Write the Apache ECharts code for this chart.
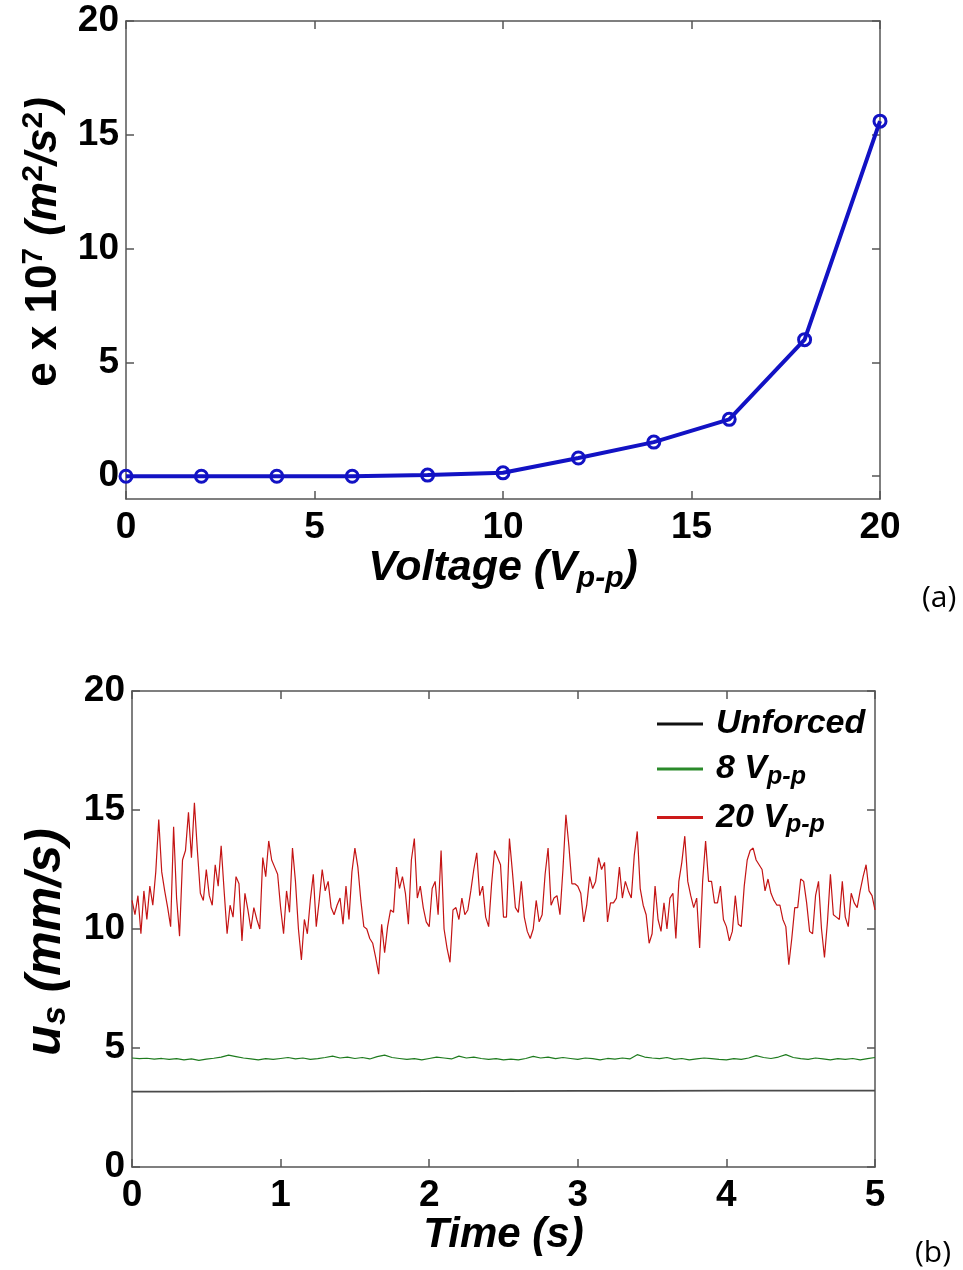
<!DOCTYPE html>
<html><head><meta charset="utf-8">
<script src="https://cdn.jsdelivr.net/npm/echarts@6/dist/echarts.min.js"></script>
<style>html,body{margin:0;padding:0;background:#fff}#c{width:963px;height:1270px}</style>
</head><body><div id="c"></div>
<script>
// ---------- panel (a) ----------
const voltage = [0, 2, 4, 6, 8, 10, 12, 14, 16, 18, 20];
const energy = [0, 0, 0, 0, 0.05, 0.15, 0.8, 1.5, 2.5, 6.0, 15.6];
const energyTicks = [0, 5, 10, 15, 20];

// ---------- panel (b) ----------
const dt20 = 0.02;
const forced20 = [
 11.2,10.6,11.4,9.8,11.6,10.4,11.8,11.0,12.4,14.6,
 12.4,11.6,10.9,10.1,14.3,11.3,9.7,12.9,13.3,14.9,
 13.0,15.3,13.3,11.5,11.2,12.5,11.4,11.0,12.7,11.8,
 13.5,11.6,9.8,11.0,10.5,12.2,11.9,9.5,11.5,10.8,
 10.0,10.9,
 10.4,10.0,13.0,12.2,13.7,12.9,12.6,12.3,10.9,9.8,
 11.6,10.7,13.4,12.0,10.0,8.7,10.4,9.8,11.2,12.3,
 10.1,11.2,12.5,11.6,12.0,10.9,10.6,11.0,11.3,10.2,
 11.8,10.4,12.4,13.4,12.6,11.2,10.1,10.0,9.6,9.4,
 8.8,8.1,
 10.2,9.0,10.1,10.8,10.7,12.6,11.7,12.2,11.5,10.2,
 12.9,13.8,11.3,11.8,10.9,10.3,10.1,11.7,12.0,10.6,
 13.3,10.0,9.2,8.6,10.8,10.9,10.4,11.3,10.6,10.8,
 11.6,12.5,13.2,11.4,11.8,10.5,10.1,11.9,13.3,13.0,
 12.7,10.5,
 10.5,13.8,12.4,10.9,10.7,12.0,10.5,9.9,9.6,10.0,
 11.2,10.3,10.6,12.3,13.4,11.0,11.3,11.4,10.6,12.5,
 14.8,13.5,11.9,11.9,11.8,11.5,10.3,11.0,12.2,11.7,
 12.0,13.0,12.5,12.8,10.3,11.1,11.1,11.3,12.6,11.3,
 12.0,11.6,
 11.3,13.1,14.1,11.7,11.0,10.6,9.4,9.8,11.8,10.4,
 9.9,11.1,10.0,11.3,11.5,9.6,12.0,12.8,13.9,12.0,
 11.4,10.9,11.3,9.2,12.0,13.7,12.0,12.0,11.1,11.1,
 11.8,10.4,10.1,9.5,9.9,11.4,10.2,10.1,11.8,12.9,
 13.3,13.4,
 12.9,12.7,12.5,11.6,12.1,11.5,11.2,11.0,11.0,10.4,
 10.1,8.5,9.6,10.9,10.9,12.1,12.0,11.1,9.9,9.8,
 11.4,12.0,10.0,8.8,10.3,12.3,10.6,10.5,10.4,12.0,
 10.5,10.1,11.5,11.1,10.9,11.6,12.2,12.7,11.6,11.4,
 10.8
];
const dt8 = 0.05;
const forced8 = [
 4.58,4.55,4.57,4.53,4.56,4.52,4.55,4.50,4.54,4.48,
 4.53,4.57,4.62,4.70,4.64,4.58,4.54,4.50,4.55,4.52,
 4.56,4.60,4.54,4.58,4.52,4.55,4.60,4.66,4.58,4.62,
 4.56,4.60,4.54,4.64,4.70,4.60,4.56,4.52,4.55,4.50,
 4.56,4.62,4.58,4.54,4.66,4.58,4.62,4.56,4.52,4.55,
 4.50,4.53,4.50,4.56,4.65,4.58,4.62,4.55,4.60,4.56,
 4.52,4.58,4.55,4.50,4.56,4.53,4.58,4.54,4.72,4.62,
 4.58,4.55,4.60,4.52,4.56,4.50,4.54,4.58,4.55,4.52,
 4.50,4.55,4.52,4.58,4.68,4.60,4.56,4.62,4.72,4.60,
 4.55,4.52,4.58,4.54,4.50,4.55,4.52,4.56,4.50,4.55,
 4.60
];
const dt0 = 0.5;
const unforced = [3.17,3.17,3.18,3.18,3.19,3.19,3.20,3.20,3.21,3.21,3.21];
const usTicks = [0, 5, 10, 15, 20];
const timeTicks = [0, 1, 2, 3, 4, 5];

const pairs = (vals, dt) => vals.map((v, i) => [+(i * dt).toFixed(3), v]);
const pairsXY = (xs, ys) => xs.map((x, i) => [x, ys[i]]);

const FONT = '"Liberation Sans", Arial, sans-serif';
const frame = { color: '#555', width: 1.5 };
const tickLbl = { fontFamily: FONT, fontSize: 37, fontWeight: 'bold', color: '#000' };

function boxAxis(extra) {
  return Object.assign({
    type: 'value',
    axisLine: { show: true, onZero: false, lineStyle: frame },
    axisTick: { show: true, inside: true, length: 8, lineStyle: frame },
    splitLine: { show: false },
    axisLabel: { show: false }
  }, extra);
}

const option = {
  animation: false,
  backgroundColor: '#fff',
  grid: [
    { left: 126, right: 83, top: 21, height: 478 },
    { left: 132, right: 88, top: 691, height: 476 }
  ],
  xAxis: [
    boxAxis({
      gridIndex: 0, min: 0, max: 20, interval: 5, position: 'bottom',
      axisLabel: Object.assign({ show: true, margin: 10 }, tickLbl),
      name: '{m|Voltage (V}{s|p-p}{m|)}',
      nameLocation: 'middle', nameGap: 42,
      nameTextStyle: {
        fontFamily: FONT, color: '#000',
        rich: {
          m: { fontFamily: FONT, fontSize: 43, fontWeight: 'bold', fontStyle: 'italic', color: '#000' },
          s: { fontFamily: FONT, fontSize: 30, fontWeight: 'bold', fontStyle: 'italic', color: '#000', padding: [20, 0, 0, 0] }
        }
      }
    }),
    boxAxis({ gridIndex: 0, min: 0, max: 20, interval: 5, position: 'top' }),
    boxAxis({
      gridIndex: 1, min: 0, max: 5, interval: 1, position: 'bottom',
      axisLabel: Object.assign({ show: true, margin: 10 }, tickLbl),
      name: 'Time (s)', nameLocation: 'middle', nameGap: 47,
      nameTextStyle: { fontFamily: FONT, fontSize: 42, fontWeight: 'bold', fontStyle: 'italic', color: '#000' }
    }),
    boxAxis({ gridIndex: 1, min: 0, max: 5, interval: 1, position: 'top' })
  ],
  yAxis: [
    boxAxis({
      gridIndex: 0, min: -1, max: 20, position: 'left',
      axisTick: { show: true, inside: true, length: 8, lineStyle: frame, customValues: energyTicks },
      axisLabel: Object.assign({ show: true, margin: 7, customValues: energyTicks }, tickLbl),
      name: '{m|e x 10}{p|7}{i| (m}{p|2}{i|/s}{p|2}{i|)}',
      nameLocation: 'middle', nameGap: 57, nameRotate: 90,
      nameTextStyle: {
        fontFamily: FONT, color: '#000', padding: [0, 0, 0, 36],
        rich: {
          m: { fontFamily: FONT, fontSize: 44, fontWeight: 'bold', color: '#000' },
          i: { fontFamily: FONT, fontSize: 44, fontWeight: 'bold', fontStyle: 'italic', color: '#000' },
          p: { fontFamily: FONT, fontSize: 30, fontWeight: 'bold', color: '#000', padding: [0, 0, 20, 0] }
        }
      }
    }),
    boxAxis({
      gridIndex: 0, min: -1, max: 20, position: 'right',
      axisTick: { show: true, inside: true, length: 8, lineStyle: frame, customValues: energyTicks }
    }),
    boxAxis({
      gridIndex: 1, min: 0, max: 20, interval: 5, position: 'left',
      axisLabel: Object.assign({ show: true, margin: 7 }, tickLbl),
      name: '{m|u}{s|s}{m| (mm/s)}',
      nameLocation: 'middle', nameGap: 51, nameRotate: 90,
      nameTextStyle: {
        fontFamily: FONT, color: '#000', padding: [0, 26, 0, 0],
        rich: {
          m: { fontFamily: FONT, fontSize: 50, fontWeight: 'bold', fontStyle: 'italic', color: '#000' },
          s: { fontFamily: FONT, fontSize: 34, fontWeight: 'bold', fontStyle: 'italic', color: '#000', padding: [20, 0, 0, 0] }
        }
      }
    }),
    boxAxis({ gridIndex: 1, min: 0, max: 20, interval: 5, position: 'right' })
  ],
  legend: {
    data: ['Unforced', '8 Vp-p', '20 Vp-p'],
    orient: 'vertical', left: 652, top: 702,
    itemWidth: 46, itemHeight: 3, itemGap: 11, icon: 'rect',
    formatter: function (name) {
      if (name === 'Unforced') return '{m|Unforced}';
      return '{m|' + name.replace('Vp-p', 'V') + '}{s|p-p}';
    },
    textStyle: {
      padding: [0, 0, 0, 8],
      rich: {
        m: { fontFamily: FONT, fontSize: 34, fontWeight: 'bold', fontStyle: 'italic', color: '#000' },
        s: { fontFamily: FONT, fontSize: 25, fontWeight: 'bold', fontStyle: 'italic', color: '#000', padding: [16, 0, 0, 0] }
      }
    }
  },
  graphic: [
    { type: 'text', left: 922, top: 583, style: { text: '(a)', fontFamily: '"Open Sans", sans-serif', fontSize: 30, fill: '#000' } },
    { type: 'text', left: 915, top: 1238, style: { text: '(b)', fontFamily: '"Open Sans", sans-serif', fontSize: 30, fill: '#000' } }
  ],
  series: [
    {
      name: 'energy', type: 'line', xAxisIndex: 0, yAxisIndex: 0,
      data: pairsXY(voltage, energy),
      lineStyle: { color: '#1212c4', width: 4 },
      symbol: 'circle', symbolSize: 12,
      itemStyle: { color: 'rgba(255,255,255,0)', borderColor: '#1212c4', borderWidth: 3 },
      z: 3
    },
    {
      name: 'Unforced', type: 'line', xAxisIndex: 2, yAxisIndex: 2,
      data: pairs(unforced, dt0), showSymbol: false, symbol: 'none',
      lineStyle: { color: '#4a4a4a', width: 1.8 }, itemStyle: { color: '#111' }
    },
    {
      name: '8 Vp-p', type: 'line', xAxisIndex: 2, yAxisIndex: 2,
      data: pairs(forced8, dt8), showSymbol: false, symbol: 'none',
      lineStyle: { color: '#1e7b1e', width: 1.2 }, itemStyle: { color: '#2a8a2a' }
    },
    {
      name: '20 Vp-p', type: 'line', xAxisIndex: 2, yAxisIndex: 2,
      data: pairs(forced20, dt20), showSymbol: false, symbol: 'none',
      lineStyle: { color: '#c41414', width: 1.2 }, itemStyle: { color: '#cc1a1a' }
    }
  ]
};
const chart = echarts.init(document.getElementById('c'), null, { renderer: 'canvas' });
chart.setOption(option);
</script></body></html>
